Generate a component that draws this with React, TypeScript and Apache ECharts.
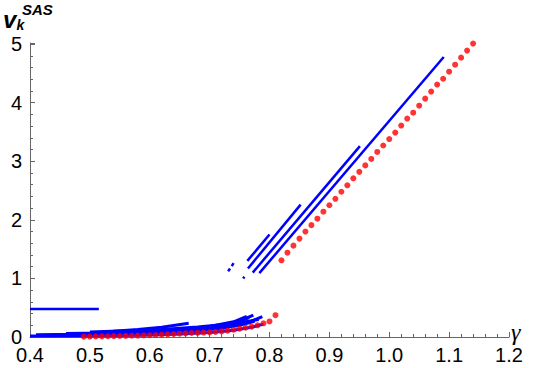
import React, { useEffect, useRef } from "react";
import * as echarts from "echarts";

// Red series (dots)
const redLow: [number, number][] = [
  [0.49, 0.005], [0.5, 0.007], [0.51, 0.009], [0.52, 0.011], [0.53, 0.013], [0.54, 0.015],
  [0.55, 0.017], [0.56, 0.019], [0.57, 0.021], [0.58, 0.024], [0.59, 0.027], [0.6, 0.03],
  [0.61, 0.034], [0.62, 0.04], [0.63, 0.046], [0.64, 0.051], [0.65, 0.057], [0.66, 0.062],
  [0.67, 0.068], [0.68, 0.072], [0.69, 0.076], [0.7, 0.08], [0.71, 0.086], [0.72, 0.096],
  [0.73, 0.108], [0.74, 0.124], [0.75, 0.142], [0.76, 0.158], [0.77, 0.176], [0.78, 0.2],
  [0.79, 0.234], [0.8, 0.266], [0.81, 0.372],
];
const redHigh: [number, number][] = [
  [0.82, 1.31], [0.83, 1.44], [0.84, 1.56], [0.85, 1.68], [0.86, 1.8], [0.87, 1.91],
  [0.88, 2.02], [0.89, 2.14], [0.9, 2.25], [0.91, 2.36], [0.92, 2.48], [0.93, 2.59],
  [0.94, 2.71], [0.95, 2.82], [0.96, 2.93], [0.97, 3.04], [0.98, 3.16], [0.99, 3.27],
  [1.0, 3.38], [1.01, 3.49], [1.02, 3.61], [1.03, 3.73], [1.04, 3.83], [1.05, 3.95],
  [1.06, 4.07], [1.07, 4.19], [1.08, 4.31], [1.09, 4.41], [1.1, 4.53], [1.11, 4.65],
  [1.12, 4.77], [1.13, 4.89], [1.14, 5.01],
];

// Blue branches (lines)
const blueFlat: [number, number][] = [[0.4, 0.48], [0.515, 0.48]];
const blueUp1: [number, number][] = [[0.763, 1.3], [0.8, 1.75]];
const blueUp2: [number, number][] = [[0.764, 1.17], [0.852, 2.26]];
const blueUp3: [number, number][] = [[0.772, 1.1], [0.951, 3.26]];
const blueUp4: [number, number][] = [[0.783, 1.09], [1.091, 4.78]];
const blueBit1: [number, number][] = [[0.731, 1.12], [0.734, 1.17]];
const blueBit2: [number, number][] = [[0.737, 1.21], [0.74, 1.26]];
const blueBit3: [number, number][] = [[0.756, 1.0], [0.758, 1.03]];
const blueLowA: [number, number][] = [
  [0.4, 0.015], [0.5, 0.02], [0.58, 0.03], [0.64, 0.045], [0.7, 0.075], [0.74, 0.115], [0.77, 0.165], [0.79, 0.22],
];
const blueLowB: [number, number][] = [
  [0.41, 0.04], [0.48, 0.045], [0.55, 0.06], [0.62, 0.08], [0.68, 0.11], [0.72, 0.15], [0.75, 0.2], [0.775, 0.27],
];
const blueLowC: [number, number][] = [
  [0.46, 0.06], [0.52, 0.07], [0.58, 0.09], [0.64, 0.11], [0.69, 0.145], [0.73, 0.19], [0.76, 0.26], [0.782, 0.3],
];
const blueLowD: [number, number][] = [
  [0.5, 0.085], [0.56, 0.105], [0.62, 0.13], [0.68, 0.17], [0.72, 0.21], [0.75, 0.27], [0.766, 0.33],
];
const blueLowE: [number, number][] = [[0.54, 0.1], [0.58, 0.13], [0.62, 0.165], [0.665, 0.235]];
const blueTip1: [number, number][] = [[0.7, 0.18], [0.74, 0.26], [0.762, 0.35]];
const blueTip2: [number, number][] = [[0.72, 0.2], [0.75, 0.27], [0.773, 0.375]];
const blueTip3: [number, number][] = [[0.74, 0.2], [0.77, 0.27], [0.788, 0.35]];

const blueSets = [
  blueFlat, blueUp1, blueUp2, blueUp3, blueUp4, blueBit1, blueBit2, blueBit3,
  blueLowA, blueLowB, blueLowC, blueLowD, blueLowE, blueTip1, blueTip2, blueTip3,
];

const BLUE = "#0000ff";
const RED = "#ff0000";
const AXIS = "#666666";
const FONT = "'Liberation Sans', Arial, sans-serif";

export default function App() {
  const ref = useRef<HTMLDivElement>(null);
  useEffect(() => {
    const chart = echarts.init(ref.current!, null, { renderer: "svg" });
    const blueSeries = blueSets.map((d, i) => ({
      type: "line",
      data: d,
      symbol: "none",
      lineStyle: { color: BLUE, width: i >= 8 ? 3 : 2.5 },
      itemStyle: { color: BLUE },
      z: 2,
      silent: true,
      clip: false,
    }));
    chart.setOption({
      animation: false,
      backgroundColor: "#ffffff",
      grid: { left: 30, right: 31, top: 43, bottom: 31, containLabel: false },
      xAxis: {
        type: "value",
        min: 0.4,
        max: 1.2,
        interval: 0.1,
        axisLine: { lineStyle: { color: AXIS, width: 1 } },
        axisTick: { inside: true, length: 5, lineStyle: { color: AXIS } },
        minorTick: { show: true, splitNumber: 5, length: 3, lineStyle: { color: AXIS } },
        splitLine: { show: false },
        axisLabel: {
          color: "#000",
          fontFamily: FONT,
          fontSize: 20,
          lineHeight: 16,
          margin: 10,
          formatter: (v: number) => v.toFixed(1),
        },
      },
      yAxis: {
        type: "value",
        min: 0,
        max: 5.02,
        interval: 1,
        axisLine: { show: true, lineStyle: { color: AXIS, width: 1 } },
        axisTick: { show: true, inside: true, length: 5, lineStyle: { color: AXIS } },
        minorTick: { show: true, splitNumber: 5, length: 3, lineStyle: { color: AXIS } },
        splitLine: { show: false },
        axisLabel: {
          color: "#000",
          fontFamily: FONT,
          fontSize: 20,
          lineHeight: 16,
          margin: 8,
          formatter: (v: number) => (Math.abs(v - Math.round(v)) < 1e-6 ? String(Math.round(v)) : ""),
        },
      },
      graphic: [
        { type: "text", left: 3, top: 7, style: { text: "v", font: `italic bold 24px ${FONT}`, lineHeight: 20, fill: "#000" } },
        { type: "text", left: 16.5, top: 18, style: { text: "k", font: `italic bold 14px ${FONT}`, lineHeight: 14, fill: "#000" } },
        { type: "text", left: 22, top: 2.3, style: { text: "SAS", font: `italic bold 15px ${FONT}`, lineHeight: 11, fill: "#000" } },
        { type: "text", left: 511, top: 320, style: { text: "γ", font: `italic 24px 'Liberation Serif', 'Times New Roman', serif`, lineHeight: 22, fill: "#000" } },
      ],
      series: [
        ...blueSeries,
        { type: "scatter", data: redLow, symbol: "circle", symbolSize: 6, itemStyle: { color: RED }, z: 3, silent: true },
        { type: "scatter", data: redHigh, symbol: "circle", symbolSize: 6, itemStyle: { color: RED }, z: 3, silent: true },
      ],
    });
    return () => chart.dispose();
  }, []);
  return <div ref={ref} style={{ position: "fixed", left: 0, top: 0, width: 540, height: 368 }} />;
}
